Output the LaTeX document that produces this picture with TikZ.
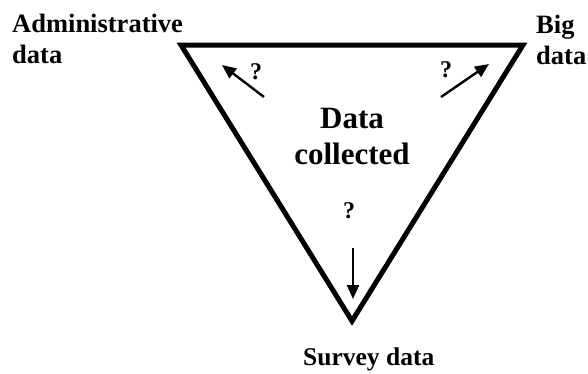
\documentclass[tikz,border=0pt]{standalone}
\usepackage{fontspec}
\setmainfont{Liberation Serif}
\usetikzlibrary{arrows.meta}
\tikzset{
  lbl/.style={font=\bfseries\fontsize{26.5}{31}\selectfont, inner sep=0pt, align=left},
  core/.style={font=\bfseries\fontsize{31}{36}\selectfont, inner sep=0pt, align=center},
  qmark/.style={font=\bfseries\fontsize{24}{28}\selectfont, inner sep=0pt},
  flow/.style={line width=2.4pt, -{Triangle[length=14pt,width=12pt]}}
}
\begin{document}
\begin{tikzpicture}[x=1pt,y=-1pt]
    \useasboundingbox (0,0) rectangle (588,373);
    % the triangle
    \coordinate (tl) at (181,45);
    \coordinate (tr) at (523,45);
    \coordinate (bt) at (352,321);
    \draw[line width=5pt, line join=miter] (tl) -- (tr) -- (bt) -- cycle;
    % corner labels
    \node[lbl, anchor=north west] (admin) at (12,14) {Administrative\\data};
    \node[lbl, anchor=north west] (big) at (536,15) {Big\\data};
    \node[lbl, anchor=base west, font=\bfseries\fontsize{25.5}{30}\selectfont] (survey) at (303,365) {Survey data};
    \node[core, anchor=north] (collected) at (352,108) {Data\\collected};
    % question marks and arrows
    \node[qmark] (qadmin) at (256,72) {?};
    \node[qmark] (qbig) at (446,70) {?};
    \node[qmark] (qsurvey) at (349,211) {?};
    \coordinate (aadmin) at (264,97);  \coordinate (badmin) at (222,65);
    \coordinate (abig) at (441,97);    \coordinate (bbig) at (489,64);
    \coordinate (asurvey) at (353,248); \coordinate (bsurvey) at (353,299);
    \draw[flow] (aadmin) -- (badmin);
    \draw[flow] (abig) -- (bbig);
    \draw[flow] (asurvey) -- (bsurvey);
\end{tikzpicture}
\end{document}
